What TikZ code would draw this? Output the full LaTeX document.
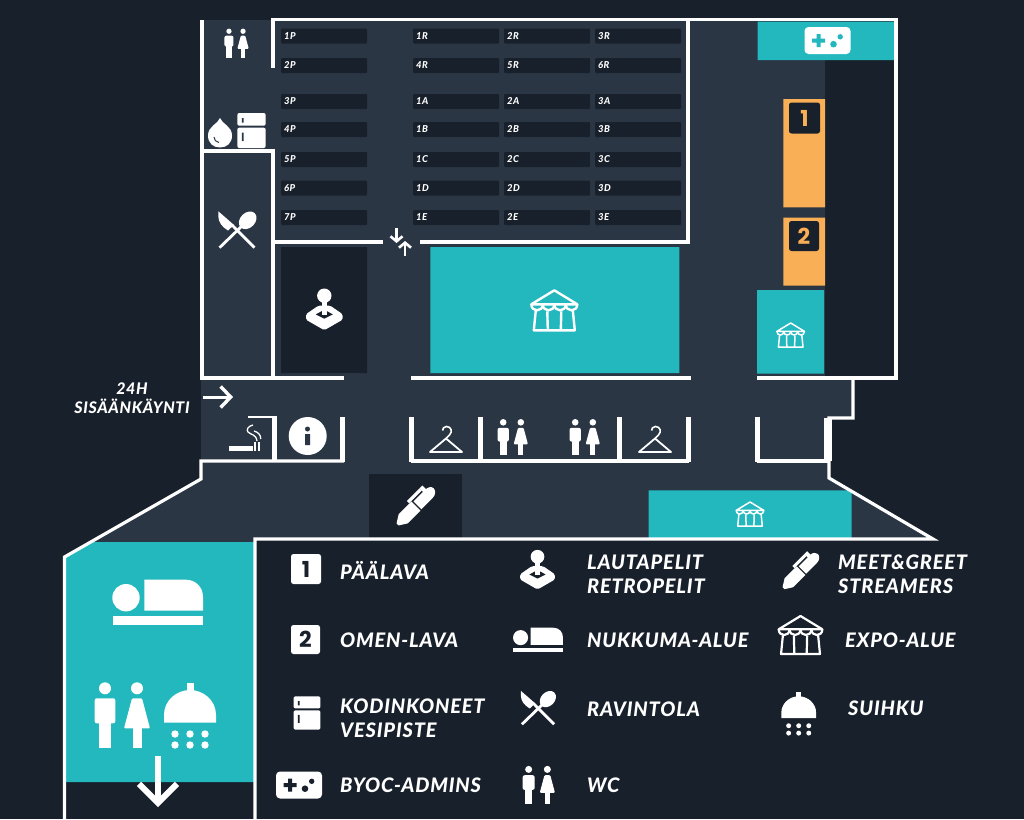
\documentclass[tikz,border=0pt]{standalone}
\usepackage{fontspec}
\setmainfont{Lato}[BoldFont=Lato Black,BoldItalicFont=Lato Black Italic,LetterSpace=4]
\newfontfamily\numfont{Poppins}
\usetikzlibrary{arrows.meta}
\definecolor{nightbg}{HTML}{18202B}
\definecolor{floorbg}{HTML}{2A3644}
\definecolor{tealbg}{HTML}{22B8BE}
\definecolor{stagebg}{HTML}{F9AF56}
\tikzset{
  wall/.style={draw=white,line width=3.2pt,line join=miter},
  stub/.style={draw=white,line width=5pt},
  desk/.style={fill=nightbg,text=white,rounded corners=1pt,anchor=west,text width=80pt,minimum height=15pt,
    inner xsep=3pt,inner ysep=0pt,align=left,font=\fontsize{9.5}{9.5}\selectfont\bfseries\itshape},
  legend/.style={text=white,anchor=west,inner sep=0pt,align=left,font=\fontsize{20}{24}\selectfont\bfseries\itshape},
  badge/.style={rounded corners=2.5pt,minimum size=30pt,inner sep=0pt,font=\fontsize{22}{22}\selectfont\numfont\bfseries},
  wc/.pic={
    \fill[white] (-16,-26.7) circle[radius=6] (16,-26.7) circle[radius=6];
    \fill[white,rounded corners=2pt] (-26.3,8.3) -- (-26.3,-16.7) -- (-5.7,-16.7) -- (-5.7,8.3) -- cycle;
    \fill[white] (-22.3,6) rectangle (-9.7,33.3);
    \fill[white,rounded corners=1pt] (11,-16.7) -- (21,-16.7) -- (29,13.3) -- (3,13.3) -- cycle;
    \fill[white] (11.5,10) rectangle (20.5,33.3);
  },
  shower/.pic={
    \fill[white] (-3.5,-32) rectangle (3.5,-22);
    \fill[white] (-26,7.7) -- (-26,0) .. controls (-26,-15) and (-13,-25) .. (0,-25) .. controls (13,-25) and (26,-15) .. (26,0) -- (26,7.7) -- cycle;
    \foreach \sx in {-15,0,15}
      \fill[white] (\sx,19) circle[radius=3.7] (\sx,30) circle[radius=3.7];
  },
  bedicon/.pic={
    \fill[white] (-31.7,-4.3) circle[radius=13.7];
    \fill[white] (-13.3,8.7) -- (-13.3,-22.3) -- (28,-22.3) .. controls (38,-22.3) and (45.3,-15) .. (45.3,-5) -- (45.3,8.7) -- cycle;
    \fill[white] (-45,13.7) rectangle (45.3,22.7);
  },
  tent/.pic={
    \draw[white,line width=#1,line join=round] (-23,-6) -- (0,-20) -- (23,-6) -- cycle;
    \foreach \sx in {-23,-11.5,0,11.5}
      \draw[white,line width=#1] (\sx,-6) .. controls (\sx,2) and (\sx+11.5,2) .. (\sx+11.5,-6);
    \draw[white,line width=#1,line join=round] (-18.5,0) -- (-20.5,20) -- (20.5,20) -- (18.5,0)
      (-7,1) -- (-6.5,20) (7,1) -- (6.5,20);
  },
  joystick/.pic={
    \fill[white] (0,-14) circle[radius=7.2];
    \fill[white,rounded corners=1.5pt] (-18.3,4.5) -- (-6,-4) -- (6,-4) -- (18.3,4.5) -- (18.3,10) -- (0,20.5) -- (-18.3,10) -- cycle;
    \fill[nightbg] (-8.5,4.7) -- (0,0) -- (8.5,4.7) -- (0,9) -- cycle;
    \fill[white] (-2.2,-10) rectangle (2.2,5.5);
  },
  penicon/.pic={
    \begin{scope}[rotate=45]
      \fill[white] (-26,-1.5) -- (-18,-6.5) -- (0,-6.5) -- (0,6.5) -- (-18,6.5) -- (-26,1.5) -- cycle;
      \fill[white] (1.5,-5) -- (18,-5) .. controls (22,-5) and (25,-3) .. (25,0) .. controls (25,3) and (22,6) .. (18,6) -- (1.5,6) -- cycle;
      \fill[white] (-3,-10) -- (15,-10) -- (15,-6.8) -- (0,-6.8) -- (-3,-6.8) -- cycle;
      \fill[white] (15,-10) -- (19,-10) -- (19,-4.5) -- (15,-4.5) -- cycle;
    \end{scope}
  },
  cutlery/.pic={
    \draw[white,line width=2.8pt] (6,-5) -- (-17.5,17.7);
    \draw[white,line width=2.8pt] (-5,-5) -- (17.5,17.7);
    \fill[white,rotate around={45:(10.7,-9.7)}] (10.7,-9.7) ellipse[x radius=10,y radius=7.5];
    \fill[white] (-18.7,-18.7) -- (-3,-5) -- (-9,0.5) .. controls (-15,-3) and (-18.7,-8) .. (-18.7,-14) -- cycle;
  },
  fridge/.pic={
    \fill[white,rounded corners=2pt] (-14.2,-4.8) -- (-14.2,-17.5) -- (14.2,-17.5) -- (14.2,-4.8) -- cycle;
    \fill[white,rounded corners=2pt] (-14.2,-2.8) -- (-14.2,17.5) -- (14.2,17.5) -- (14.2,-2.8) -- cycle;
    \fill[#1] (-9.6,-12.5) rectangle (-7.8,-8) (-9.6,2) rectangle (-7.8,10.5);
  },
  gamepad/.pic={
    \fill[white,rounded corners=4pt] (-23,-13.5) rectangle (23,13.5);
    \fill[#1] (-15.5,-2) rectangle (-2.5,2) (-11,-6.5) rectangle (-7,6.5);
    \fill[#1] (6,3.7) circle[radius=3.3] (12.7,-3.7) circle[radius=2.7];
  },
  hanger/.pic={
    \draw[white,line width=1.8pt,line join=round] (-16,12.5) -- (0,-1) -- (16,12.5) -- cycle;
    \draw[white,line width=1.6pt] (0,-1) -- (3.5,-4.5) .. controls (7,-8) and (5,-13) .. (0.5,-13) .. controls (-2,-13) and (-3.5,-11) .. (-3.5,-9);
  }
}
\begin{document}
\begin{tikzpicture}[x=1pt,y=-1pt]
  \useasboundingbox (0,0) rectangle (1024,819);
  \fill[nightbg] (0,0) rectangle (1024,819);
  % floor
  \fill[floorbg] (202,20) -- (896,20) -- (896,378) -- (853,378) -- (853,418) -- (829,418) -- (829,478) -- (933,539)
  -- (255,539) -- (255,543) -- (90,543) -- (201,479) -- cycle;
  % rooms
  \fill[nightbg] (825,60) rectangle (895,377) (281,247) rectangle (367,373) (369,474) rectangle (462,538);
  \fill[tealbg] (757.5,21.5) rectangle (895,60) (430.3,247) rectangle (679.3,373) (757,290) rectangle (824,373.5)
  (648.7,490.3) rectangle (851.7,538);
  \fill[tealbg] (65,557) -- (92,542) -- (254,542) -- (254,782) -- (65,782) -- cycle;
  \fill[stagebg] (783.3,99) rectangle (825,207.3) (783.3,217.7) rectangle (825,285.7);
  \node[badge,fill=nightbg,text=stagebg,minimum size=31pt] (stage-a) at (804.5,118) {1};
  \node[badge,fill=nightbg,text=stagebg] (stage-b) at (804,236) {2};
  % desks
  \foreach \y/\a/\b/\c/\d in {36/1P/1R/2R/3R,65.5/2P/4R/5R/6R,101.5/3P/1A/2A/3A,129.5/4P/1B/2B/3B,
    159.5/5P/1C/2C/3C,188/6P/1D/2D/3D,217.5/7P/1E/2E/3E}{
    \node[desk] (desk-\a) at (281,\y) {\a};
    \node[desk] (desk-\b) at (413,\y) {\b};
    \node[desk] (desk-\c) at (504,\y) {\c};
    \node[desk] (desk-\d) at (595,\y) {\d};
  }
  % walls
  \draw[wall] (273,67.5) -- (273,19.8) -- (896,19.8) -- (896,378) -- (757,378);
  \draw[wall] (344,378) -- (202,378) -- (202,20);
  \draw[wall] (202,151) -- (273,151) -- (273,378);
  \draw[wall] (273,242) -- (383,242) (420,242) -- (688,242) -- (688,20);
  \draw[wall] (411,378) -- (691,378);
  \draw[wall] (853,378) -- (853,418) -- (829,418) -- (829,478) -- (933,539) -- (255,539) -- (255,819);
  \draw[wall] (344,461) -- (201,461) -- (201,479) -- (64.5,557) -- (64.5,819);
  \draw[wall,line width=2.5pt] (248,417) -- (274,417);
  \draw[wall] (411,461) -- (689,461) (757,461) -- (829,461);
  \draw[stub] (274,416) -- (274,461) (342,417) -- (342,462) (411,417) -- (411,462) (480,417) -- (480,461)
  (619,417) -- (619,461) (688,417) -- (688,462) (757,417) -- (757,462);
  \draw[stub,line width=8pt] (828,418) -- (828,461);
  % arrows
  \coordinate (entry-a) at (203,397);
  \coordinate (entry-b) at (233,397);
  \coordinate (door-a) at (396.5,228);
  \coordinate (door-b) at (396.5,243);
  \coordinate (door-c) at (405,256);
  \coordinate (door-d) at (405,241);
  \coordinate (down-a) at (158,756);
  \coordinate (down-b) at (158,807);
  \path[white,line width=3pt]
  (entry-a) edge[-{Straight Barb[length=10pt,width=21pt,line width=3.4pt]}] (entry-b)
  (door-a) edge[line width=2.4pt,-{Straight Barb[length=5pt,width=12pt,line width=2.6pt]}] (door-b)
  (door-c) edge[line width=2.4pt,-{Straight Barb[length=5pt,width=12pt,line width=2.6pt]}] (door-d)
  (down-a) edge[line width=6pt,-{Straight Barb[length=19pt,width=38pt,line width=6pt]}] (down-b);
  % icons on the map
  \pic[scale=.44] (wc-a) at (236,43) {wc};
  \pic[scale=.55] (wc-b) at (512,437) {wc};
  \pic[scale=.55] (wc-c) at (584,437) {wc};
  \pic (wc-d) at (121,715) {wc};
  \pic (shower-a) at (190,715) {shower};
  \pic (bed-a) at (157.7,602) {bedicon};
  \fill[white] (220,118) .. controls (222,124) and (232,126) .. (232,135.5) .. controls (232,143) and (227,147.5) .. (220,147.5)
  .. controls (213,147.5) and (208,143) .. (208,135.5) .. controls (208,126) and (218,124) .. (220,118) -- cycle;
  \draw[floorbg,line width=1pt] (214,137) .. controls (214,140) and (216,142) .. (219,142.5);
  \pic (fridge-a) at (251.5,130.5) {fridge=floorbg};
  \pic (cut-a) at (237,230) {cutlery};
  \pic (joy-a) at (324.3,309.7) {joystick};
  \pic (tent-a) at (554.3,310.3) {tent=2.4};
  \pic[scale=.6] (tent-b) at (790.7,335) {tent=1.5};
  \pic[scale=.6] (tent-c) at (750,514) {tent=1.5};
  \pic (game-a) at (827.5,40.5) {gamepad=tealbg};
  \pic (pen-a) at (416,506) {penicon};
  \pic (hang-a) at (446,439.5) {hanger};
  \pic (hang-b) at (655,439.5) {hanger};
  % info and smoking
  \fill[white] (307.7,436) circle[radius=19];
  \fill[floorbg] (307.5,429) circle[radius=2.5] (305.2,434) rectangle (310,445);
  \fill[white] (229,446) rectangle (253,450.7);
  \draw[white,line width=1.2pt] (255,442) -- (255,451) (259,442) -- (259,451);
  \draw[white,line width=1.3pt] (253,425) .. controls (248,426) and (246,430) .. (248,432) .. controls (251,435) and (256,434) .. (257,441)
  (254,431) .. controls (258,432) and (261,435) .. (260.7,439);
  % legend
  \node[badge,fill=white,text=nightbg] (key-a) at (306,569) {1};
  \node[badge,fill=white,text=nightbg,minimum size=29pt] (key-b) at (305.5,639.5) {2};
  \pic[scale=.95] (key-c) at (307,713) {fridge=nightbg};
  \pic (key-d) at (299,785) {gamepad=nightbg};
  \pic[scale=.95] (key-e) at (537.5,570) {joystick};
  \pic[scale=.55] (key-f) at (538,640) {bedicon};
  \pic[scale=.92] (key-g) at (538,708) {cutlery};
  \pic[scale=.585] (key-h) at (538,785) {wc};
  \pic[scale=.95] (key-i) at (801,570.7) {penicon};
  \pic[scale=.95] (key-j) at (800.5,635) {tent=2.2};
  \pic[scale=.67] (key-k) at (798.7,713) {shower};
  \node[legend] (txt-a) at (340,570) {PÄÄLAVA};
  \node[legend] (txt-b) at (340,640) {OMEN-LAVA};
  \node[legend] (txt-c) at (340,718) {KODINKONEET\\VESIPISTE};
  \node[legend] (txt-d) at (340,785) {BYOC-ADMINS};
  \node[legend] (txt-e) at (587,574) {LAUTAPELIT\\RETROPELIT};
  \node[legend] (txt-f) at (587,640) {NUKKUMA-ALUE};
  \node[legend] (txt-g) at (587,709) {RAVINTOLA};
  \node[legend] (txt-h) at (587,785) {WC};
  \node[legend] (txt-i) at (838,574) {MEET\&GREET\\STREAMERS};
  \node[legend] (txt-j) at (845,640) {EXPO-ALUE};
  \node[legend] (txt-k) at (848,708) {SUIHKU};
  \node[text=white,inner sep=0pt,align=center,font=\fontsize{16}{19}\selectfont\bfseries\itshape] (entry-txt) at (132,398.5) {24H\\SISÄÄNKÄYNTI};
\end{tikzpicture}
\end{document}
